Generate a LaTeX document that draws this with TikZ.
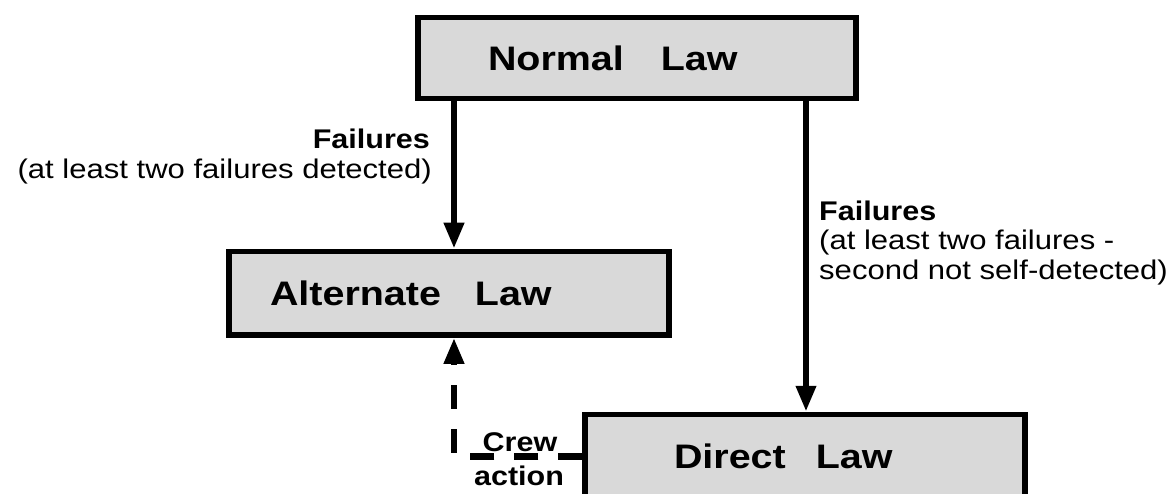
\documentclass[tikz,border=0pt]{standalone}
\usepackage{fontspec}
\setmainfont{Liberation Sans}
\newfontfamily\bigfont[FakeStretch=1.16]{Liberation Sans}
\newfontfamily\smallfont[FakeStretch=1.15]{Liberation Sans}
\newfontfamily\smallbold[FakeStretch=1.13]{Liberation Sans}
\usetikzlibrary{arrows.meta,calc}
\definecolor{lawgray}{RGB}{217,217,217}
\tikzset{
  lawbox/.style={draw=black, line width=5.5pt, fill=lawgray, inner sep=0pt,
    font=\bigfont\bfseries\fontsize{34}{40}\selectfont},
  lbl/.style={inner sep=0pt, font=\smallfont\fontsize{27}{30}\selectfont},
  lblb/.style={inner sep=0pt, font=\smallbold\bfseries\fontsize{27}{30}\selectfont},
  solidarr/.style={line width=6.5pt, -{Triangle[width=19pt,length=26pt]}},
  dasharr/.style={line width=6.5pt, dash pattern=on 24pt off 20pt,
    -{Triangle[width=19pt,length=26pt]}}
}
\begin{document}
\begin{tikzpicture}[x=1pt,y=-1pt]
\useasboundingbox[fill=white] (0,0) rectangle (1174,494);
% boxes
\node[lawbox, minimum width=438pt, minimum height=81pt] (normal) at (637,58)
  {\makebox[438pt][l]{\hspace{70pt}Normal\hspace{37pt}Law}};
\node[lawbox, minimum width=440pt, minimum height=83.5pt] (alt) at (449,293.25)
  {\makebox[440pt][l]{\hspace{41pt}Alternate\hspace{34pt}Law}};
\node[lawbox, minimum width=440pt, minimum height=83.5pt] (direct) at (805,456.25)
  {\makebox[440pt][l]{\hspace{89pt}Direct\hspace{30pt}Law}};
% guide coordinates for connector columns
\coordinate (lx) at (454,0);
\coordinate (rx) at (806,0);
% connectors
\draw[solidarr] (normal.south -| lx) -- (alt.north -| lx);
\draw[solidarr] (normal.south -| rx) -- (direct.north -| rx);
\draw[dasharr] (direct.west) -| (alt.south -| lx);
% labels
\node[lblb, anchor=base east] (lf1) at (430,149) {Failures};
\node[lbl, anchor=base east] (lf2) at (432,179) {(at least two failures detected)};
\node[lblb, anchor=base west] (rf1) at (819,221) {Failures};
\node[lbl, anchor=base west] (rf2) at (819,250) {(at least two failures -};
\node[lbl, anchor=base west] (rf3) at (819,279) {second not self-detected)};
\node[lblb, anchor=base] (crew) at (520,451) {Crew};
\node[lblb, anchor=base] (action) at (519,485) {action};
\end{tikzpicture}
\end{document}
